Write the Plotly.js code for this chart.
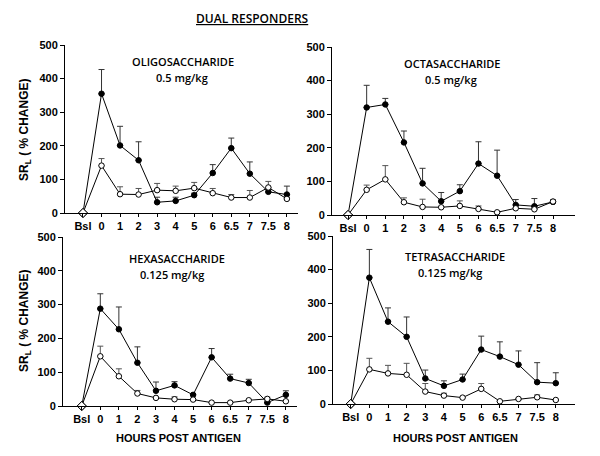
<!DOCTYPE html>
<html>
<head>
<meta charset="utf-8">
<script src="https://cdn.plot.ly/plotly-3.0.1.min.js"></script>
<style>html,body{margin:0;padding:0;background:#fff}#chart{width:600px;height:456px}</style>
</head>
<body>
<div id="chart"></div>
<script>
// ---- data ----
const hours = ['Bsl','0','1','2','3','4','5','6','6.5','7','7.5','8'];

const oligoFilled    = [0, 355, 201, 157, 32, 36, 53, 119, 193, 117, 63, 55];
const oligoFilledErr = [0, 72, 57, 55, 15, 11, 6, 25, 30, 35, 8, 25];
const oligoOpen      = [0, 141, 56, 55, 68, 66, 74, 59, 46, 46, 76, 42];
const oligoOpenErr   = [0, 21, 22, 18, 20, 14, 17, 14, 9, 21, 18, 4];

const octaFilled     = [0, 320, 329, 216, 94, 41, 71, 153, 117, 30, 26, 39];
const octaFilledErr  = [0, 66, 18, 34, 45, 26, 19, 65, 76, 16, 23, 6];
const octaOpen       = [0, 75, 106, 38, 24, 23, 27, 18, 8, 20, 17, 40];
const octaOpenErr    = [0, 14, 41, 13, 23, 0, 15, 9, 0, 0, 0, 4];

const hexaFilled     = [0, 288, 227, 128, 45, 61, 33, 144, 81, 68, 10, 33];
const hexaFilledErr  = [0, 44, 66, 47, 26, 11, 0, 26, 13, 11, 0, 12];
const hexaOpen       = [0, 147, 88, 37, 24, 20, 19, 10, 10, 17, 21, 14];
const hexaOpenErr    = [0, 30, 22, 9, 0, 7, 0, 0, 0, 0, 5, 0];

const tetraFilled    = [0, 376, 245, 200, 76, 54, 73, 162, 141, 117, 65, 62];
const tetraFilledErr = [0, 84, 41, 59, 25, 15, 16, 40, 44, 41, 58, 31];
const tetraOpen      = [0, 103, 91, 87, 37, 25, 19, 45, 8, 15, 20, 12];
const tetraOpenErr   = [0, 33, 24, 34, 24, 7, 0, 16, 0, 0, 7, 0];

const panelNames = ['OLIGOSACCHARIDE', 'OCTASACCHARIDE', 'HEXASACCHARIDE', 'TETRASACCHARIDE'];
const panelDoses = ['0.5 mg/kg', '0.5 mg/kg', '0.125 mg/kg', '0.125 mg/kg'];
const yTicks = [0, 100, 200, 300, 400, 500];

// ---- build ----
const W = 600, H = 456;
const px = x => x / W;
const py = y => 1 - y / H;

const panels = [
  {f: oligoFilled, fe: oligoFilledErr, o: oligoOpen, oe: oligoOpenErr},
  {f: octaFilled,  fe: octaFilledErr,  o: octaOpen,  oe: octaOpenErr},
  {f: hexaFilled,  fe: hexaFilledErr,  o: hexaOpen,  oe: hexaOpenErr},
  {f: tetraFilled, fe: tetraFilledErr, o: tetraOpen, oe: tetraOpenErr}
];

const geo = [
  {x0: 65,  x1: 298, y0: 213, y1: 45,  r: [-0.97, 11.6]},
  {x0: 332, x1: 575, y0: 215, y1: 47,  r: [-0.86, 12.18]},
  {x0: 63,  x1: 297, y0: 406, y1: 237, r: [-1.01, 11.6]},
  {x0: 333, x1: 575, y0: 404, y1: 236, r: [-0.95, 12.03]}
];

const symbols = hours.map((h, i) => i === 0 ? 'diamond' : 'circle');
const sizes = hours.map((h, i) => i === 0 ? 7 : 5.5);
const zeros = hours.map(() => 0);
const traces = [];
panels.forEach((p, k) => {
  const xa = k === 0 ? 'x' : 'x' + (k + 1);
  const ya = k === 0 ? 'y' : 'y' + (k + 1);
  traces.push({
    x: hours, y: p.f, xaxis: xa, yaxis: ya, type: 'scatter', mode: 'lines+markers',
    line: {color: '#000', width: 1},
    marker: {symbol: symbols, size: sizes, opacity: 1,
             color: hours.map((h,i)=> i===0 ? '#ffffff' : '#000000'),
             line: {color: '#000', width: 1}},
    error_y: {type: 'data', symmetric: false, array: p.fe, arrayminus: zeros,
              color: '#333', thickness: 1, width: 3},
    showlegend: false, cliponaxis: false
  });
  traces.push({
    x: hours, y: p.o, xaxis: xa, yaxis: ya, type: 'scatter', mode: 'lines+markers',
    line: {color: '#000', width: 1},
    marker: {symbol: symbols, size: sizes, color: '#ffffff', opacity: 1,
             line: {color: '#000', width: 1}},
    error_y: {type: 'data', symmetric: false, array: p.oe, arrayminus: zeros,
              color: '#555', thickness: 1, width: 3},
    showlegend: false, cliponaxis: false
  });
});

const tickFont = {family: 'Liberation Sans, Arial, sans-serif', size: 11, color: '#000', weight: 'bold'};
const layout = {
  width: W, height: H,
  margin: {l: 0, r: 0, t: 0, b: 0},
  paper_bgcolor: '#fff', plot_bgcolor: '#fff',
  showlegend: false,
  annotations: []
};
geo.forEach((g, k) => {
  const sx = k === 0 ? '' : String(k + 1);
  layout['xaxis' + sx] = {
    type: 'category', domain: [px(g.x0), px(g.x1)], range: g.r,
    anchor: 'y' + sx, showline: true, linecolor: '#000', linewidth: 1,
    ticks: 'outside', ticklen: 3, tickcolor: '#000', showgrid: false, zeroline: false,
    tickfont: tickFont, fixedrange: true
  };
  layout['yaxis' + sx] = {
    domain: [py(g.y0), py(g.y1)], range: [0, 500],
    anchor: 'x' + sx, showline: true, linecolor: '#000', linewidth: 1,
    ticks: 'outside', ticklen: 4, tickcolor: '#000', showgrid: false, zeroline: false,
    tickvals: yTicks, tickfont: tickFont, fixedrange: true
  };
});

const labelFont = {family: 'Open Sans, DejaVu Sans, sans-serif', size: 11, color: '#000', weight: 600};
const labelPos = [
  {x: 183, y1: 61, x2: 182, y2: 77},
  {x: 452, y1: 63, x2: 451, y2: 79},
  {x: 177, y1: 258, x2: 172, y2: 274},
  {x: 455, y1: 256, x2: 450, y2: 272}
];
labelPos.forEach((p, k) => {
  layout.annotations.push({xref: 'paper', yref: 'paper', x: px(p.x), y: py(p.y1),
    xanchor: 'center', yanchor: 'middle', showarrow: false, text: panelNames[k], font: labelFont});
  layout.annotations.push({xref: 'paper', yref: 'paper', x: px(p.x2), y: py(p.y2),
    xanchor: 'center', yanchor: 'middle', showarrow: false, text: panelDoses[k], font: labelFont});
});

layout.annotations.push({xref: 'paper', yref: 'paper', x: px(252), y: py(19),
  xanchor: 'center', yanchor: 'middle', showarrow: false, text: 'DUAL RESPONDERS',
  font: {family: 'Open Sans, DejaVu Sans, sans-serif', size: 12, color: '#000', weight: 600, lineposition: 'under'}});

[130, 321].forEach(yc => {
  layout.annotations.push({xref: 'paper', yref: 'paper', x: px(25), y: py(yc),
    xanchor: 'center', yanchor: 'middle', showarrow: false, textangle: -90,
    text: 'SR<sub>L</sub> ( % CHANGE)',
    font: {family: 'Liberation Sans, Arial, sans-serif', size: 12, color: '#000', weight: 'bold'}});
});
[178, 455].forEach(xc => {
  layout.annotations.push({xref: 'paper', yref: 'paper', x: px(xc), y: py(438),
    xanchor: 'center', yanchor: 'middle', showarrow: false,
    text: 'HOURS POST ANTIGEN',
    font: {family: 'Liberation Sans, Arial, sans-serif', size: 11, color: '#000', weight: 'bold'}});
});

Plotly.newPlot('chart', traces, layout, {displayModeBar: false, staticPlot: true});
</script>
</body>
</html>
